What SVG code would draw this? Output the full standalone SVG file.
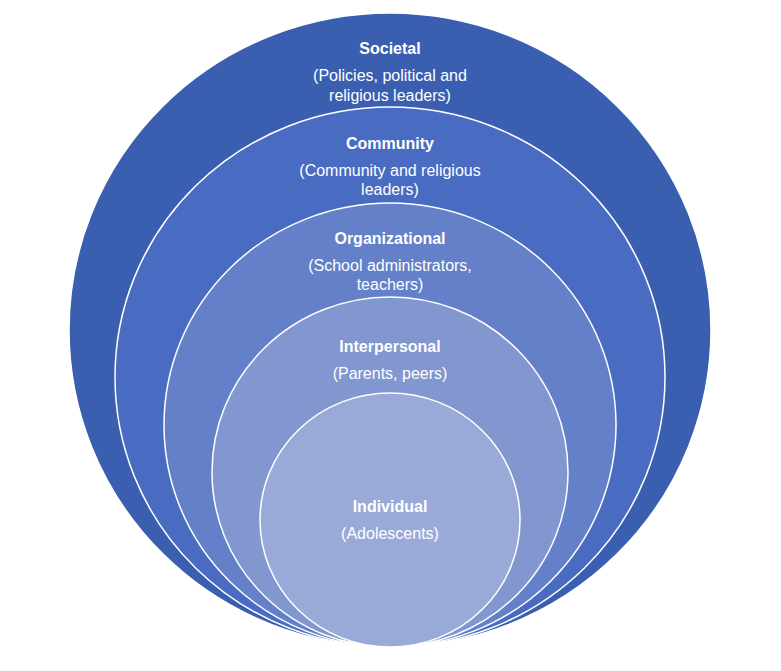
<svg xmlns="http://www.w3.org/2000/svg" width="781" height="671" viewBox="0 0 781 671">
<style>
.r{stroke:#fff;stroke-width:1.5}
text{font-family:"Liberation Sans",Arial,sans-serif;font-size:16px;fill:#fff;text-anchor:middle}
.t{font-weight:bold}
</style>
<rect width="781" height="671" fill="#fff"/>
<g id="societal"><ellipse class="r" cx="390" cy="330" rx="321" ry="317" fill="#3A5FB0" stroke="none"/>
<text class="t" x="390" y="54">Societal</text><text x="390" y="81">(Policies, political and</text><text x="390" y="101">religious leaders)</text></g>
<g id="community"><ellipse class="r" cx="390" cy="377" rx="275" ry="270" fill="#4A6BC2"/>
<text class="t" x="390" y="149">Community</text><text x="390" y="176">(Community and religious</text><text x="390" y="195">leaders)</text></g>
<g id="organizational"><ellipse class="r" cx="390" cy="425" rx="226" ry="222" fill="#6480C8"/>
<text class="t" x="390" y="244">Organizational</text><text x="390" y="271">(School administrators,</text><text x="390" y="290">teachers)</text></g>
<g id="interpersonal"><ellipse class="r" cx="390" cy="472" rx="178" ry="175" fill="#8296D0"/>
<text class="t" x="390" y="352">Interpersonal</text><text x="390" y="379">(Parents, peers)</text></g>
<g id="individual"><ellipse class="r" cx="390" cy="520" rx="130" ry="127" fill="#9AAAD8"/>
<text class="t" x="390" y="512">Individual</text><text x="390" y="539">(Adolescents)</text></g>
<g id="connectors"/>
</svg>
